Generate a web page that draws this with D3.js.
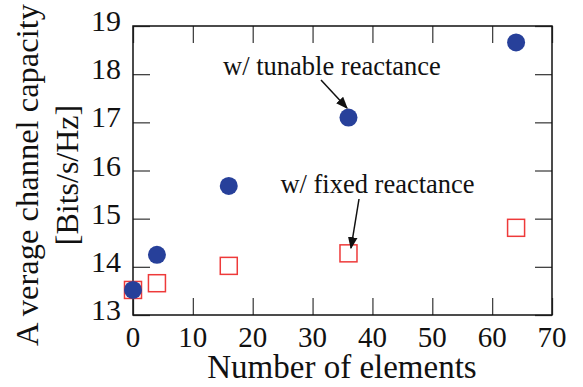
<!DOCTYPE html>
<html>
<head>
<meta charset="utf-8">
<script src="https://cdn.jsdelivr.net/npm/d3@7"></script>
<style>
  body { margin: 0; background: #fff; }
  svg text { font-family: "Liberation Serif", "Times New Roman", serif; fill: #111; }
</style>
</head>
<body>
<svg id="chart" width="583" height="387"></svg>
<script>
// number of elements
var elements = [0, 4, 16, 36, 64];
// capacity, bits/s/Hz
var tunable = [13.52, 14.25, 15.68, 17.1, 18.66];
var fixed = [13.52, 13.66, 14.02, 14.28, 14.81];
var xTicks = [0, 10, 20, 30, 40, 50, 60, 70];
var yTicks = [13, 14, 15, 16, 17, 18, 19];

var plotL = 133, plotR = 552, plotT = 26, plotB = 315;
var svg = d3.select("#chart");

var x = d3.scaleLinear().domain([0, 70]).range([plotL, plotR]);
var y = d3.scaleLinear().domain([13, 19]).range([plotB, plotT]);
var tickLen = 17, tickColor = "#444";

function styleTicks(g){
    g.select(".domain").remove();
    g.selectAll("line").attr("stroke", tickColor).attr("stroke-width", 1.3);
}

// inward ticks on all four sides
svg.append("g").attr("transform", "translate(0," + plotB + ")")
    .call(d3.axisTop(x).tickValues(xTicks).tickSize(tickLen).tickFormat(""))
    .call(styleTicks);
svg.append("g").attr("transform", "translate(0," + plotT + ")")
    .call(d3.axisBottom(x).tickValues(xTicks).tickSize(tickLen).tickFormat(""))
    .call(styleTicks);
svg.append("g").attr("transform", "translate(" + plotL + ",0)")
    .call(d3.axisRight(y).tickValues(yTicks).tickSize(tickLen).tickFormat(""))
    .call(styleTicks);
svg.append("g").attr("transform", "translate(" + plotR + ",0)")
    .call(d3.axisLeft(y).tickValues(yTicks).tickSize(tickLen).tickFormat(""))
    .call(styleTicks);

// frame
svg.append("rect")
    .attr("x", plotL).attr("y", plotT)
    .attr("width", plotR - plotL).attr("height", plotB - plotT)
    .attr("fill", "none").attr("stroke", "#111").attr("stroke-width", 1.5);

// tick labels
svg.selectAll(".xl").data(xTicks).enter().append("text")
    .attr("x", function(d){ return x(d); })
    .attr("y", 347)
    .attr("text-anchor", "middle")
    .style("font-size", "29px")
    .text(function(d){ return d; });
svg.selectAll(".yl").data(yTicks).enter().append("text")
    .attr("x", 121)
    .attr("y", function(d){ return y(d) + 5; })
    .attr("text-anchor", "end")
    .style("font-size", "30px")
    .text(function(d){ return d; });

// axis titles
svg.append("text")
    .attr("x", 342).attr("y", 378)
    .attr("text-anchor", "middle")
    .style("font-size", "33px")
    .text("Number of elements");
var yt = svg.append("text")
    .attr("transform", "translate(0,175) rotate(-90)")
    .attr("text-anchor", "middle");
yt.append("tspan").attr("x", 0).attr("y", 38)
    .style("font-size", "32.5px").text("A verage channel capacity");
yt.append("tspan").attr("x", 0).attr("y", 78)
    .style("font-size", "32px").text("[Bits/s/Hz]");

// fixed reactance: open red squares
var sq = 17;
svg.selectAll(".fx").data(elements).enter().append("rect")
    .attr("x", function(d){ return x(d) - sq / 2; })
    .attr("y", function(d, i){ return y(fixed[i]) - sq / 2; })
    .attr("width", sq).attr("height", sq)
    .attr("fill", "none").attr("stroke", "#ee3a3a").attr("stroke-width", 1.5);

// tunable reactance: filled blue circles
svg.selectAll(".tn").data(elements).enter().append("circle")
    .attr("cx", function(d){ return x(d); })
    .attr("cy", function(d, i){ return y(tunable[i]); })
    .attr("r", 9)
    .attr("fill", "#27409a");

// annotations
svg.append("defs").append("marker")
    .attr("id", "ah").attr("viewBox", "0 0 10 10")
    .attr("refX", 9).attr("refY", 5)
    .attr("markerWidth", 8).attr("markerHeight", 8)
    .attr("orient", "auto")
    .append("path").attr("d", "M0,1 L10,5 L0,9 Z").attr("fill", "#111");

svg.append("text").attr("x", 332).attr("y", 75)
    .attr("text-anchor", "middle").style("font-size", "26.5px")
    .text("w/ tunable reactance");
svg.append("line")
    .attr("x1", 321).attr("y1", 80).attr("x2", 347).attr("y2", 108)
    .attr("stroke", "#111").attr("stroke-width", 1.5).attr("marker-end", "url(#ah)");

svg.append("text").attr("x", 377.5).attr("y", 193)
    .attr("text-anchor", "middle").style("font-size", "26.5px")
    .text("w/ fixed reactance");
svg.append("line")
    .attr("x1", 359).attr("y1", 199).attr("x2", 351).attr("y2", 248)
    .attr("stroke", "#111").attr("stroke-width", 1.5).attr("marker-end", "url(#ah)");
</script>
</body>
</html>
